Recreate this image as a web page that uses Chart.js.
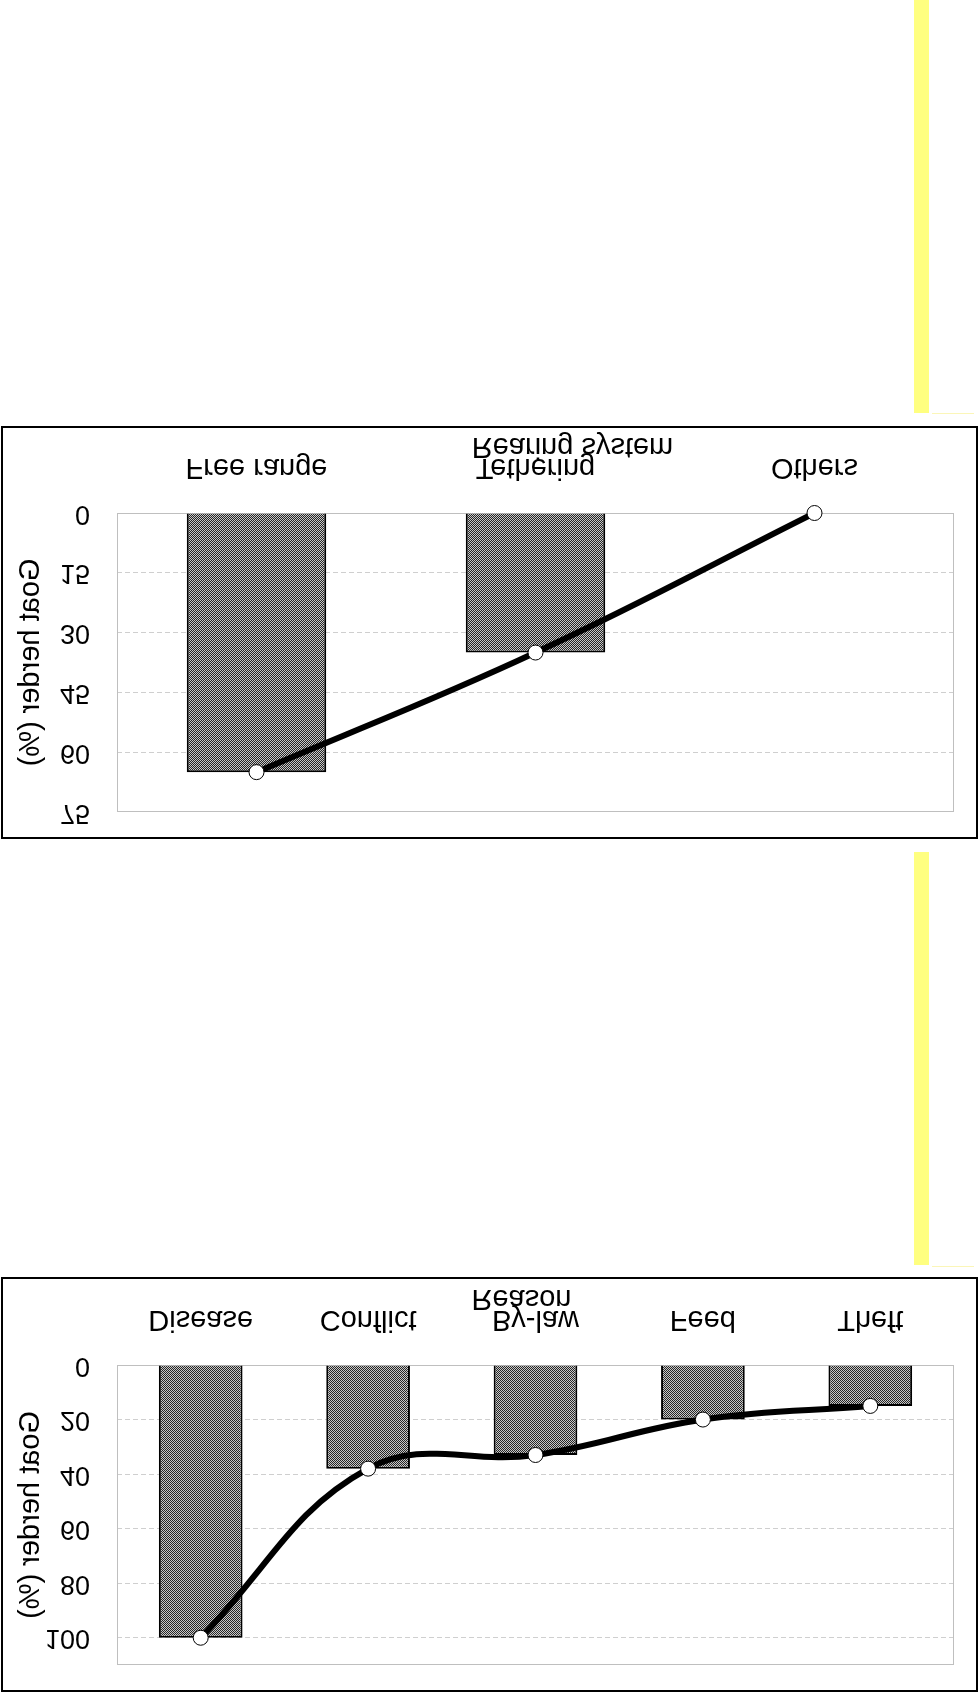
<!DOCTYPE html>
<html>
<head>
<meta charset="utf-8">
<script src="https://cdn.jsdelivr.net/npm/chart.js@4.4.1/dist/chart.umd.min.js"></script>
<style>
  html, body { margin: 0; padding: 0; background: #fff; overflow: hidden; }
  body { width: 978px; height: 1692px; position: relative; }
  .box { position: absolute; left: 1px; width: 977px; box-sizing: border-box; border: 2px solid #000; background: #fff; }
  .box canvas { display: block; transform: scaleY(-1); }
  .marker { position: absolute; left: 914px; width: 15px; height: 413px; background: #ffff80; }
  .rule { position: absolute; left: 932px; width: 42px; height: 1px; background: #fbf6b8; }
</style>
</head>
<body>
<div class="marker" style="top:0"></div>
<div class="rule" style="top:413px"></div>
<div class="box" style="top:426px;height:413px"><canvas id="rearing" width="973" height="409"></canvas></div>
<div class="marker" style="top:852px"></div>
<div class="rule" style="top:1266px"></div>
<div class="box" style="top:1277px;height:415px"><canvas id="reason" width="973" height="411"></canvas></div>

<script>
const rearingLabels = ["Free range", "Tethering", "Others"];
const rearingValues = [65, 35, 0];
const rearingTicks = [0, 15, 30, 45, 60, 75];

const reasonLabels = ["Disease", "Conflict", "By-law", "Feed", "Theft"];
const reasonValues = [100, 38, 33, 20, 15];
const reasonTicks = [0, 20, 40, 60, 80, 100];

const yTitle = "Goat herder (%)";
const FONT = '"Liberation Sans", Arial, sans-serif';

// fine black/grey checker like the old office fill
const hatch = (ctx) => {
  const c = document.createElement("canvas");
  c.width = 2; c.height = 2;
  const g = c.getContext("2d");
  g.fillStyle = "#c8c8c8"; g.fillRect(0, 0, 2, 2);
  g.fillStyle = "#262626"; g.fillRect(0, 0, 1, 1); g.fillRect(1, 1, 1, 1);
  return ctx.createPattern(c, "repeat");
};

// plot frame + x-axis title (sits a bit off centre in the original)
const frame = {
  id: "frame",
  beforeDatasetsDraw(chart, args, opts) {
    const { ctx, chartArea: a } = chart;
    ctx.save();
    ctx.strokeStyle = "#bfbfbf";
    ctx.lineWidth = 1;
    ctx.strokeRect(a.left + 0.5, a.top + 0.5, a.width - 1, a.height - 1);
    ctx.fillStyle = "#000";
    ctx.font = "29px " + FONT;
    ctx.textAlign = "center";
    ctx.textBaseline = "middle";
    ctx.fillText(opts.text, (a.left + a.right) / 2 + opts.shift, a.bottom + opts.gap);
    ctx.restore();
  },
};

const makeChart = (id, labels, values, ticks, yMax, xTitle, shift, xHeight) => {
  const ctx = document.getElementById(id).getContext("2d");
  return new Chart(ctx, {
    data: {
      labels,
      datasets: [
        {
          type: "line",
          data: values,
          order: 0,
          borderColor: "#000",
          borderWidth: 6,
          tension: 0.4,
          pointRadius: 7.5,
          pointHoverRadius: 7.5,
          pointBackgroundColor: "#fff",
          pointBorderColor: "#000",
          pointBorderWidth: 1,
          clip: false,
        },
        {
          type: "bar",
          data: values,
          order: 1,
          backgroundColor: hatch(ctx),
          borderColor: "#000",
          borderWidth: 2,
          categoryPercentage: 0.5,
          barPercentage: 1,
        },
      ],
    },
    options: {
      responsive: false,
      animation: false,
      layout: { padding: { top: 25, right: 22, left: 0, bottom: 0 } },
      plugins: {
        legend: { display: false },
        tooltip: { enabled: false },
        frame: { text: xTitle, shift, gap: 67 },
      },
      scales: {
        x: {
          grid: { display: false },
          border: { display: false },
          ticks: { color: "#000", font: { family: FONT, size: 29 }, padding: 21 },
          afterFit: (s) => { s.height = xHeight; s.paddingLeft = 0; s.paddingRight = 0; },
        },
        y: {
          min: 0,
          max: yMax,
          grid: {
            drawTicks: false,
            color: (c) => (c.tick && (c.tick.value === 0 || c.tick.value === yMax) ? "rgba(0,0,0,0)" : "#cfcfcf"),
          },
          border: { display: false, dash: [5, 3] },
          afterBuildTicks: (s) => { s.ticks = ticks.map((v) => ({ value: v })); },
          ticks: {
            color: "#000",
            font: { family: FONT, size: 27 },
            padding: 27,
          },
          title: { display: true, text: yTitle, color: "#000", font: { family: FONT, size: 29 }, padding: { top: 11 } },
          afterFit: (s) => { s.width = 114; s.paddingTop = 0; s.paddingBottom = 0; },
        },
      },
    },
    plugins: [frame],
  });
};

makeChart("rearing", rearingLabels, rearingValues, rearingTicks, 75, "Rearing system", 37, 85);
makeChart("reason", reasonLabels, reasonValues, reasonTicks, 110, "Reason", -14, 86);
</script>
</body>
</html>
